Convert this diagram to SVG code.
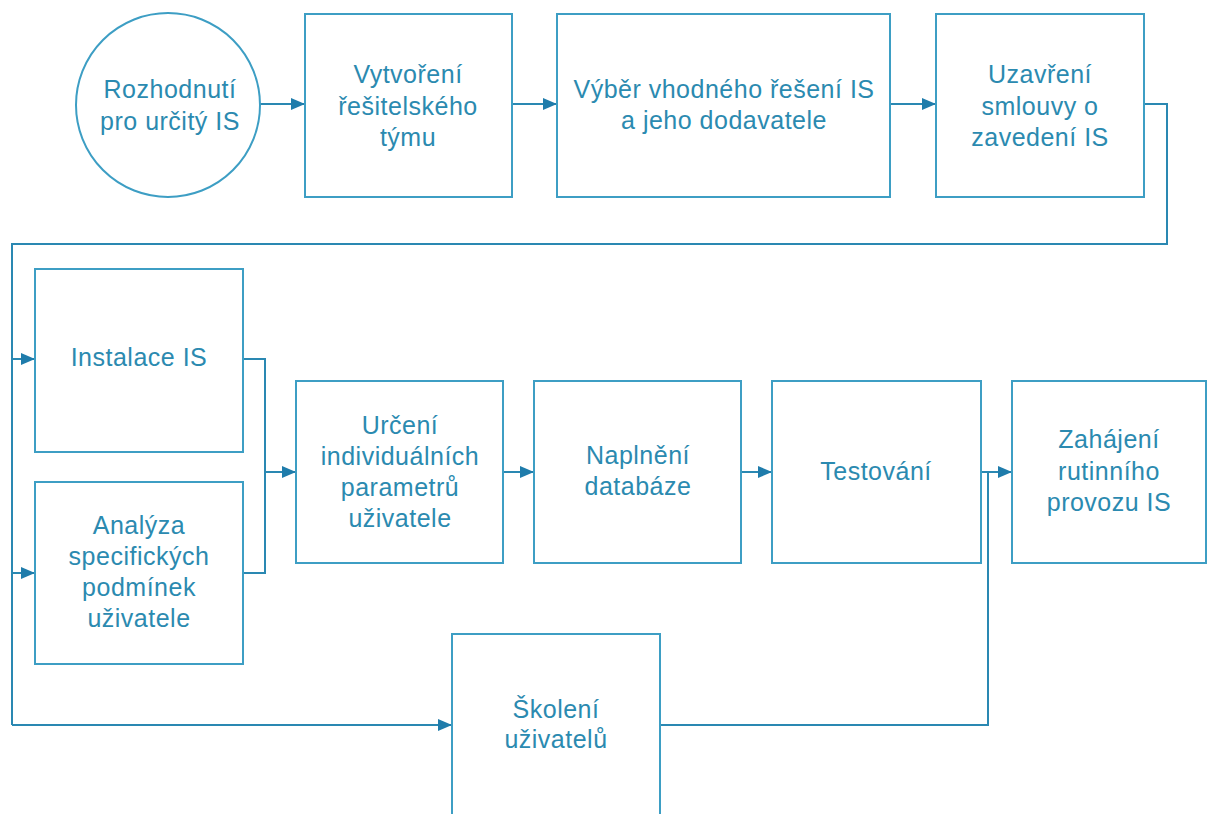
<svg xmlns="http://www.w3.org/2000/svg" width="1209" height="814" viewBox="0 0 1209 814">
  <defs>
    <marker id="arrow" markerWidth="14" markerHeight="12" refX="14" refY="6" orient="auto" markerUnits="userSpaceOnUse">
      <path d="M0,0 L14,6 L0,12 Z" fill="#1f7cab"/>
    </marker>
    <style>
      .box { fill: #ffffff; stroke: #3d9ec4; stroke-width: 2; }
      .lbl { font-family: "Liberation Sans", Arial, sans-serif; font-size: 25px; fill: #2b8ab0; text-anchor: middle; letter-spacing: 0.5px; }
      .wire { fill: none; stroke: #2a88b2; stroke-width: 2; }
      .wire-a { fill: none; stroke: #2a88b2; stroke-width: 2; marker-end: url(#arrow); }
    </style>
  </defs>

  <rect width="1209" height="814" fill="#ffffff"/>

  <!-- connectors -->
  <g id="connectors">
    <path class="wire-a" d="M260,104 H305"/>
    <path class="wire-a" d="M512,104 H557"/>
    <path class="wire-a" d="M890,104 H936"/>
    <!-- loop back from the contract step to the second row -->
    <path class="wire" d="M1144,104 H1167 V244 H12 V725"/>
    <path class="wire-a" d="M12,359 H35"/>
    <path class="wire-a" d="M12,573 H35"/>
    <path class="wire-a" d="M12,725 H452"/>
    <!-- merge of installation and analysis -->
    <path class="wire" d="M243,359 H265 V573 H243"/>
    <path class="wire-a" d="M265,472 H296"/>
    <path class="wire-a" d="M503,472 H534"/>
    <path class="wire-a" d="M741,472 H772"/>
    <path class="wire-a" d="M981,472 H1012"/>
    <!-- training joins the final step -->
    <path class="wire" d="M660,725 H988 V472"/>
  </g>

  <g id="n-rozhodnuti">
    <circle class="box" cx="168" cy="105" r="92"/>
    <text class="lbl" x="170" y="98">Rozhodnutí</text>
    <text class="lbl" x="170" y="130">pro určitý IS</text>
  </g>

  <g id="n-vytvoreni">
    <rect class="box" x="305" y="14" width="207" height="183"/>
    <text class="lbl" x="408" y="83">Vytvoření</text>
    <text class="lbl" x="408" y="115">řešitelského</text>
    <text class="lbl" x="408" y="146">týmu</text>
  </g>

  <g id="n-vyber">
    <rect class="box" x="557" y="14" width="333" height="183"/>
    <text class="lbl" x="724" y="98">Výběr vhodného řešení IS</text>
    <text class="lbl" x="724" y="129">a jeho dodavatele</text>
  </g>

  <g id="n-uzavreni">
    <rect class="box" x="936" y="14" width="208" height="183"/>
    <text class="lbl" x="1040" y="83">Uzavření</text>
    <text class="lbl" x="1040" y="115">smlouvy o</text>
    <text class="lbl" x="1040" y="146">zavedení IS</text>
  </g>

  <g id="n-instalace">
    <rect class="box" x="35" y="269" width="208" height="183"/>
    <text class="lbl" x="139" y="366">Instalace IS</text>
  </g>

  <g id="n-analyza">
    <rect class="box" x="35" y="482" width="208" height="182"/>
    <text class="lbl" x="139" y="534">Analýza</text>
    <text class="lbl" x="139" y="565">specifických</text>
    <text class="lbl" x="139" y="596">podmínek</text>
    <text class="lbl" x="139" y="627">uživatele</text>
  </g>

  <g id="n-urceni">
    <rect class="box" x="296" y="381" width="207" height="182"/>
    <text class="lbl" x="400" y="434">Určení</text>
    <text class="lbl" x="400" y="465">individuálních</text>
    <text class="lbl" x="400" y="496">parametrů</text>
    <text class="lbl" x="400" y="527">uživatele</text>
  </g>

  <g id="n-naplneni">
    <rect class="box" x="534" y="381" width="207" height="182"/>
    <text class="lbl" x="638" y="464">Naplnění</text>
    <text class="lbl" x="638" y="495">databáze</text>
  </g>

  <g id="n-testovani">
    <rect class="box" x="772" y="381" width="209" height="182"/>
    <text class="lbl" x="876" y="480">Testování</text>
  </g>

  <g id="n-zahajeni">
    <rect class="box" x="1012" y="381" width="194" height="182"/>
    <text class="lbl" x="1109" y="448">Zahájení</text>
    <text class="lbl" x="1109" y="480">rutinního</text>
    <text class="lbl" x="1109" y="511">provozu IS</text>
  </g>

  <g id="n-skoleni">
    <rect class="box" x="452" y="634" width="208" height="200"/>
    <text class="lbl" x="556" y="718">Školení</text>
    <text class="lbl" x="556" y="748">uživatelů</text>
  </g>
</svg>
